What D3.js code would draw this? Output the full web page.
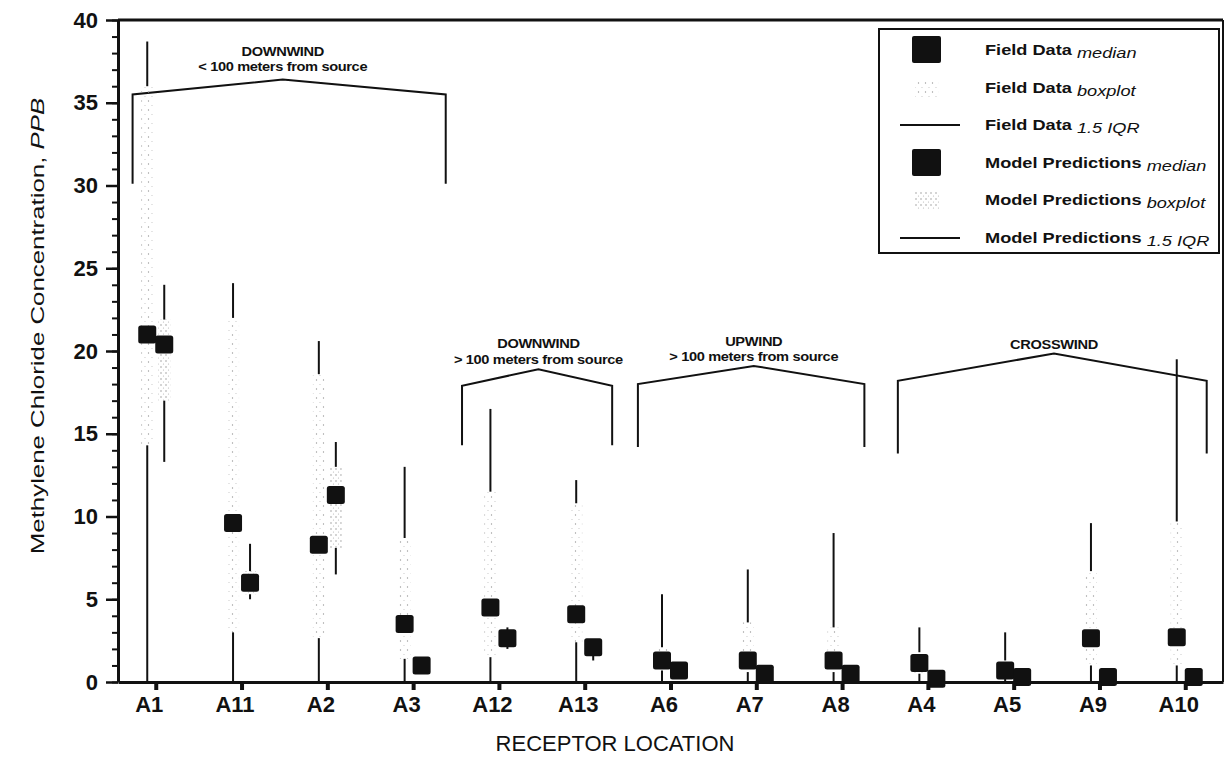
<!DOCTYPE html>
<html>
  <head>
    <meta charset="utf-8">
    <title>Methylene chloride by receptor location</title>
    <script src="https://cdn.jsdelivr.net/npm/d3@7"></script>
    <style>
      body { margin: 0; background: #fff; }
      svg { font-family: "Liberation Sans", Arial, sans-serif; display: block; }
      .tick text { font-weight: bold; font-size: 22px; fill: #111; }
    </style>
  </head>

  <body>
    <svg id="chart" width="1227" height="757"></svg>

    <script>
      // receptor locations, left to right
      locations = ["A1", "A11", "A2", "A3", "A12", "A13", "A6", "A7", "A8", "A4", "A5", "A9", "A10"];

      // field data (ppb): whisker low, Q1, median, Q3, whisker high
      fieldLow    = [0, 0, 0, 0, 0, 0, 0, 0, 0, 0, 0, 0, 0];
      fieldQ1     = [14.3, 3.0, 2.65, 1.4, 1.5, 2.4, 0.7, 0.6, 0.6, 0.5, 0.3, 1.0, 1.0];
      fieldMedian = [21.0, 9.6, 8.3, 3.5, 4.5, 4.1, 1.3, 1.3, 1.3, 1.15, 0.7, 2.65, 2.7];
      fieldQ3     = [36.0, 22.0, 18.6, 8.7, 11.5, 10.8, 2.1, 3.6, 3.3, 1.8, 1.3, 6.7, 9.7];
      fieldHigh   = [38.7, 24.1, 20.6, 13.0, 16.5, 12.2, 5.3, 6.8, 9.0, 3.3, 3.0, 9.6, 19.5];

      // model predictions (ppb)
      modelLow    = [13.3, 5.0, 6.5, 0.6, 2.0, 1.3, 0.4, 0.2, 0.2, 0.05, 0.1, 0.1, 0.1];
      modelQ1     = [17.0, 5.3, 8.1, 0.8, 2.3, 1.6, 0.5, 0.3, 0.3, 0.1, 0.2, 0.2, 0.2];
      modelMedian = [20.4, 6.0, 11.3, 1.0, 2.65, 2.1, 0.7, 0.5, 0.5, 0.2, 0.3, 0.3, 0.3];
      modelQ3     = [21.9, 6.7, 13.0, 1.2, 3.0, 2.4, 0.9, 0.7, 0.7, 0.3, 0.4, 0.4, 0.4];
      modelHigh   = [24.0, 8.35, 14.5, 1.3, 3.3, 2.6, 1.0, 0.8, 0.8, 0.4, 0.5, 0.5, 0.5];

      yTicks = [0, 5, 10, 15, 20, 25, 30, 35, 40];
      yMinorTicks = d3.range(0, 41, 1);

      // location groups drawn as brackets above the boxes
      groupNames = ["DOWNWIND", "DOWNWIND", "UPWIND", "CROSSWIND"];
      groupNotes = ["< 100 meters from source", "> 100 meters from source", "> 100 meters from source", ""];

      legendLabels = [
        ["Field Data", "median"],
        ["Field Data", "boxplot"],
        ["Field Data", "1.5 IQR"],
        ["Model Predictions", "median"],
        ["Model Predictions", "boxplot"],
        ["Model Predictions", "1.5 IQR"]
      ];

      // layout
      margin = { top: 20, right: 4, bottom: 75, left: 118 };
      width = 1227;
      height = 757;
      chart = d3.select("#chart");

      x = d3.scalePoint()
        .domain(locations)
        .range([margin.left, width - margin.right])
        .padding(0.44);
      y = d3.scaleLinear()
        .domain([0, 40])
        .range([height - margin.bottom, margin.top]);
      step = x.step();
      offset = 8.5;

      // stipple patterns for the boxes
      defs = chart.append("defs");
      fieldPat = defs.append("pattern")
        .attr("id", "fieldDots")
        .attr("patternUnits", "userSpaceOnUse")
        .attr("width", 7).attr("height", 9);
      fieldPat.append("circle").attr("cx", 1.5).attr("cy", 2).attr("r", 0.7).attr("fill", "#9a9a9a");
      fieldPat.append("circle").attr("cx", 5).attr("cy", 6.5).attr("r", 0.6).attr("fill", "#c4c4c4");
      modelPat = defs.append("pattern")
        .attr("id", "modelDots")
        .attr("patternUnits", "userSpaceOnUse")
        .attr("width", 5).attr("height", 6);
      modelPat.append("circle").attr("cx", 1).attr("cy", 1).attr("r", 0.7).attr("fill", "#8a8a8a");
      modelPat.append("circle").attr("cx", 3.5).attr("cy", 4).attr("r", 0.6).attr("fill", "#b4b4b4");

      // frame (top and right)
      chart.append("line")
        .attr("x1", margin.left).attr("x2", width - margin.right)
        .attr("y1", y(40)).attr("y2", y(40))
        .attr("stroke", "#111").attr("stroke-width", 3);
      chart.append("line")
        .attr("x1", width - margin.right).attr("x2", width - margin.right)
        .attr("y1", y(40)).attr("y2", y(0))
        .attr("stroke", "#111").attr("stroke-width", 2);

      // brackets, in category index units and ppb
      brackets = [
        { left: -0.27, peak: 1.48, right: 3.38, end: 35.5, top: 36.4, foot: 30.1, text: [37.8, 36.9] },
        { left: 3.57, peak: 4.46, right: 5.32, end: 17.9, top: 18.9, foot: 14.3, text: [20.2, 19.2] },
        { left: 5.62, peak: 6.97, right: 8.26, end: 18.0, top: 19.1, foot: 14.2, text: [20.3, 19.4] },
        { left: 8.65, peak: 10.47, right: 12.25, end: 18.2, top: 19.85, foot: 13.8, text: [20.1, 19.1] }
      ];
      xi = function(i) { return x(locations[0]) + i * step; };
      bracketGroup = chart.append("g");
      brackets.forEach(function(b, i) {
        bracketGroup.append("path")
          .attr("d", d3.line()([
            [xi(b.left), y(b.foot)], [xi(b.left), y(b.end)], [xi(b.peak), y(b.top)],
            [xi(b.right), y(b.end)], [xi(b.right), y(b.foot)]
          ]))
          .attr("fill", "none").attr("stroke", "#111").attr("stroke-width", 2);
        lines = groupNotes[i] ? [groupNames[i], groupNotes[i]] : [groupNames[i]];
        lines.forEach(function(t, j) {
          yy = lines.length == 1 ? b.text[0] : b.text[j];
          bracketGroup.append("text")
            .attr("transform", "translate(" + xi(b.peak) + "," + y(yy) + ") scale(1.22,1)")
            .attr("text-anchor", "middle")
            .attr("font-size", 12)
            .attr("font-weight", "bold")
            .attr("letter-spacing", -0.3)
            .attr("fill", "#111")
            .text(t);
        });
      });

      // boxes, whiskers, medians
      function drawSeries(cls, dx, low, q1, med, q3, high, pat) {
        g = chart.append("g").attr("class", cls);
        locations.forEach(function(loc, i) {
          cx = x(loc) + dx;
          g.append("rect")
            .attr("x", cx - 6).attr("width", 12)
            .attr("y", y(q3[i])).attr("height", y(q1[i]) - y(q3[i]))
            .attr("fill", "url(#" + pat + ")");
          g.append("line")
            .attr("x1", cx).attr("x2", cx)
            .attr("y1", y(high[i])).attr("y2", y(q3[i]))
            .attr("stroke", "#111").attr("stroke-width", 2);
          g.append("line")
            .attr("x1", cx).attr("x2", cx)
            .attr("y1", y(q1[i])).attr("y2", y(low[i]))
            .attr("stroke", "#111").attr("stroke-width", 2);
        });
        locations.forEach(function(loc, i) {
          cx = x(loc) + dx;
          g.append("rect")
            .attr("x", cx - 9).attr("y", y(med[i]) - 9)
            .attr("width", 18).attr("height", 18)
            .attr("rx", 2.5)
            .attr("fill", "#111");
        });
      }
      drawSeries("field", -offset, fieldLow, fieldQ1, fieldMedian, fieldQ3, fieldHigh, "fieldDots");
      drawSeries("model", offset, modelLow, modelQ1, modelMedian, modelQ3, modelHigh, "modelDots");

      // y axis with minor ticks
      chart.append("g")
        .attr("transform", "translate(" + margin.left + ",0)")
        .call(d3.axisLeft(y).tickValues(yMinorTicks).tickSize(6).tickFormat(""))
        .call(function(g) {
          g.select(".domain").remove();
          g.selectAll("line").attr("stroke", "#111").attr("stroke-width", 2);
        });
      chart.append("g")
        .attr("transform", "translate(" + margin.left + ",0)")
        .call(d3.axisLeft(y).tickValues(yTicks).tickSize(12).tickSizeOuter(0).tickPadding(8))
        .call(function(g) {
          g.select(".domain").attr("stroke", "#111").attr("stroke-width", 3);
          g.selectAll(".tick line").attr("stroke", "#111").attr("stroke-width", 2.5);
        });

      // x axis
      chart.append("g")
        .attr("transform", "translate(0," + y(0) + ")")
        .call(d3.axisBottom(x).tickSize(8).tickSizeOuter(0).tickPadding(6))
        .call(function(g) {
          g.select(".domain").attr("stroke", "#111").attr("stroke-width", 3);
          g.selectAll(".tick line").attr("stroke", "#111").attr("stroke-width", 4);
          g.selectAll(".tick text").attr("dx", -7);
        });

      // axis titles
      chart.append("text")
        .attr("x", 615).attr("y", 751)
        .attr("text-anchor", "middle")
        .attr("font-size", 22)
        .attr("fill", "#111")
        .text("RECEPTOR LOCATION");
      yTitle = chart.append("text")
        .attr("transform", "translate(44,326) rotate(-90) scale(1.36,1)")
        .attr("text-anchor", "middle")
        .attr("font-size", 19)
        .attr("fill", "#111");
      yTitle.append("tspan").text("Methylene Chloride Concentration, ");
      yTitle.append("tspan").attr("font-style", "italic").text("PPB");

      // legend
      legend = chart.append("g");
      legend.append("rect")
        .attr("x", 879).attr("y", 29)
        .attr("width", 340).attr("height", 224)
        .attr("fill", "#fff").attr("stroke", "#111").attr("stroke-width", 2);
      rowY = [50, 88, 125, 163, 200, 238];
      legendLabels.forEach(function(lab, i) {
        ry = rowY[i];
        kind = i % 3;
        if (kind == 0) {
          legend.append("rect")
            .attr("x", 912).attr("y", ry - 14)
            .attr("width", 29).attr("height", 27)
            .attr("rx", 2)
            .attr("fill", "#111");
        } else if (kind == 1) {
          legend.append("rect")
            .attr("x", 915).attr("y", ry - 9)
            .attr("width", 24).attr("height", 18)
            .attr("fill", i < 3 ? "url(#fieldDots)" : "url(#modelDots)");
        } else {
          legend.append("line")
            .attr("x1", 900).attr("x2", 960)
            .attr("y1", ry).attr("y2", ry)
            .attr("stroke", "#111").attr("stroke-width", 2);
        }
        t = legend.append("text")
          .attr("transform", "translate(985," + (ry + 5) + ") scale(1.3,1)")
          .attr("font-size", 14)
          .attr("fill", "#111");
        t.append("tspan").attr("font-weight", "bold").text(lab[0] + " ");
        t.append("tspan").attr("font-style", "italic").attr("dy", 3).text(lab[1]);
      });
    </script>
  </body>
</html>
